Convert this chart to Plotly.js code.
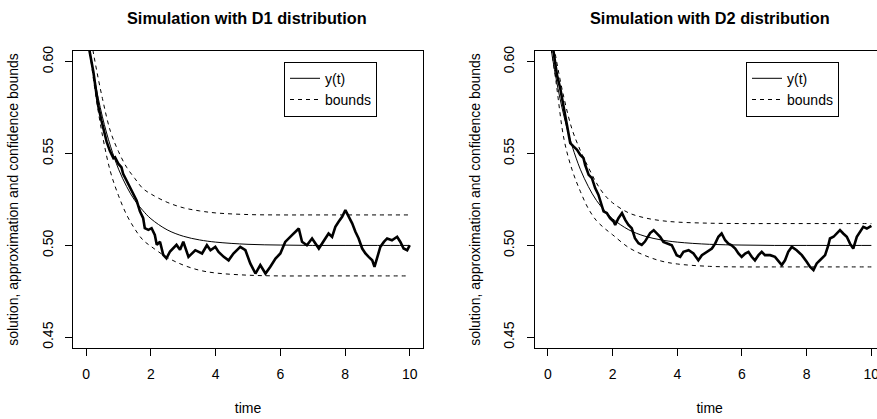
<!DOCTYPE html>
<html>
<head>
<meta charset="utf-8">
<script src="https://cdn.plot.ly/plotly-3.0.1.min.js"></script>
<style>
html,body{margin:0;padding:0;overflow:hidden;background:#fff;}
#chart{width:885px;height:419px;}
</style>
</head>
<body>
<div id="chart"></div>
<script>
// ---- data ----
const panelTitles = ["Simulation with D1 distribution", "Simulation with D2 distribution"];
const xTitle = "time";
const yTitle = "solution, approximation and confidence bounds";
const legendLabels = ["y(t)", "bounds"];
const xTicks = [0, 2, 4, 6, 8, 10];
const yTicks = [0.45, 0.50, 0.55, 0.60];
const yTickText = ["0.45", "0.50", "0.55", "0.60"];

const tGrid = [0, 0.25, 0.5, 0.75, 1, 1.25, 1.5, 1.75, 2, 2.5, 3, 3.5, 4, 5, 6, 7, 8, 9, 10];

// D1 panel
const d1Solution = [0.618, 0.591, 0.570, 0.554, 0.5415, 0.532, 0.5245, 0.519, 0.5145, 0.5085, 0.505, 0.503, 0.5018, 0.5006, 0.5002, 0.5, 0.5, 0.5, 0.5];
const d1Upper = [0.628, 0.602, 0.580, 0.562, 0.551, 0.5425, 0.5365, 0.531, 0.528, 0.5235, 0.5205, 0.5188, 0.5177, 0.5168, 0.5166, 0.5166, 0.5166, 0.5166, 0.5166];
const d1Lower = [0.622, 0.587, 0.560, 0.540, 0.527, 0.5166, 0.509, 0.503, 0.4995, 0.4935, 0.4893, 0.4865, 0.485, 0.4838, 0.4834, 0.4834, 0.4834, 0.4834, 0.4834];
const d1PathT = [0.10, 0.22, 0.32, 0.37, 0.47, 0.58, 0.63, 0.73, 0.84, 0.89, 0.99, 1.09, 1.14, 1.25, 1.35, 1.45, 1.56, 1.66, 1.76, 1.81, 1.92, 2.02, 2.12, 2.18, 2.28, 2.38, 2.48, 2.59, 2.69, 2.79, 2.90, 3.00,
  3.16, 3.37, 3.58, 3.73, 3.84, 3.99, 4.09, 4.25, 4.40, 4.55, 4.76, 4.92, 5.07, 5.23, 5.38, 5.54, 5.69, 5.85, 6.00, 6.15, 6.36, 6.57, 6.67,
  6.82, 6.98, 7.19, 7.39, 7.49, 7.60, 7.70, 7.80, 7.91, 8.01, 8.11, 8.22, 8.32, 8.42, 8.53, 8.63, 8.73, 8.84, 8.91, 8.99, 9.09, 9.20, 9.30, 9.45, 9.61, 9.71, 9.81, 9.92, 10.0];
const d1PathY = [0.606, 0.5945, 0.582, 0.576, 0.568, 0.5605, 0.5565, 0.5515, 0.5475, 0.548, 0.5445, 0.5425, 0.539, 0.5352, 0.5315, 0.528, 0.5243, 0.5186, 0.5148, 0.5094, 0.5085, 0.5094, 0.5057, 0.5003, 0.502, 0.4949, 0.493, 0.4967, 0.4985, 0.5003, 0.4976, 0.502,
  0.4938, 0.4974, 0.4956, 0.5001, 0.4974, 0.4992, 0.4965, 0.4938, 0.4919, 0.4956, 0.4992, 0.4974, 0.4902, 0.4847, 0.4893, 0.4847, 0.4884, 0.4929, 0.4956, 0.5019, 0.5056, 0.5092, 0.502,
  0.5001, 0.5038, 0.4983, 0.5038, 0.5065, 0.5047, 0.5101, 0.5129, 0.5156, 0.5192, 0.5156, 0.512, 0.5074, 0.5038, 0.4983, 0.4956, 0.4938, 0.4919, 0.4883, 0.4929, 0.4992, 0.5019, 0.5038, 0.5028, 0.5047, 0.5019, 0.4983, 0.4974, 0.5001];

// D2 panel
const d2Solution = [0.618, 0.591, 0.570, 0.554, 0.5415, 0.532, 0.5245, 0.519, 0.5145, 0.5085, 0.505, 0.503, 0.5018, 0.5006, 0.5002, 0.5, 0.5, 0.5, 0.5];
const d2Upper = [0.630, 0.602, 0.580, 0.563, 0.5518, 0.5425, 0.534, 0.5275, 0.5232, 0.5177, 0.515, 0.5135, 0.5127, 0.5121, 0.5119, 0.5119, 0.5119, 0.5119, 0.5119];
const d2Lower = [0.620, 0.589, 0.5575, 0.541, 0.5295, 0.520, 0.5135, 0.5093, 0.5058, 0.4988, 0.4945, 0.4915, 0.4899, 0.4886, 0.4883, 0.4883, 0.4883, 0.4883, 0.4883];
const d2PathT = [0.17, 0.28, 0.38, 0.48, 0.59, 0.64, 0.69, 0.79, 0.90, 1.00, 1.10, 1.15, 1.26, 1.36, 1.46, 1.56, 1.67, 1.72, 1.82, 1.92, 2.03, 2.08, 2.18, 2.29, 2.39, 2.49, 2.59, 2.69, 2.80, 2.90, 3.00, 3.16,
  3.27, 3.47, 3.57, 3.68, 3.83, 3.98, 4.09, 4.19, 4.35, 4.50, 4.65, 4.76, 4.92, 5.07, 5.17, 5.27, 5.37, 5.48, 5.58, 5.68, 5.79, 5.89, 5.99, 6.10, 6.20, 6.30, 6.40, 6.51, 6.61,
  6.71, 6.87, 7.02, 7.23, 7.33, 7.43, 7.54, 7.69, 7.85, 8.00, 8.10, 8.21, 8.31, 8.41, 8.57, 8.67, 8.72, 8.83, 8.93, 9.03, 9.13, 9.24, 9.34, 9.44, 9.55, 9.65, 9.75, 9.86, 9.96, 10.0];
const d2PathY = [0.606, 0.5927, 0.5856, 0.5766, 0.5657, 0.5603, 0.5557, 0.5539, 0.5521, 0.5493, 0.5475, 0.5439, 0.5384, 0.5366, 0.5312, 0.5276, 0.5221, 0.5185, 0.5176, 0.5148, 0.513, 0.5112, 0.5148, 0.5176, 0.5139, 0.5112, 0.5094, 0.5039, 0.5012, 0.5003, 0.5021, 0.5067,
  0.5083, 0.5047, 0.5019, 0.501, 0.5001, 0.4947, 0.4938, 0.4965, 0.4974, 0.4956, 0.4919, 0.4947, 0.4965, 0.4983, 0.501, 0.5047, 0.5065, 0.5028, 0.501, 0.5001, 0.4983, 0.4956, 0.4938, 0.4956, 0.4965, 0.4938, 0.4919, 0.4947, 0.4965,
  0.4947, 0.4947, 0.4938, 0.4893, 0.4919, 0.4965, 0.4992, 0.4974, 0.4947, 0.4911, 0.4884, 0.4866, 0.4902, 0.4919, 0.4947, 0.5001, 0.5038, 0.5047, 0.5065, 0.5083, 0.5065, 0.5047, 0.501, 0.4983, 0.5047, 0.5074, 0.5101, 0.5092, 0.5101, 0.5107];

// ---- chart ----
const FONT = "Liberation Sans, Arial, Helvetica, sans-serif";
const panels = [
  {sol: d1Solution, up: d1Upper, lo: d1Lower, pt: d1PathT, py: d1PathY, xa: "x", ya: "y", leg: "legend"},
  {sol: d2Solution, up: d2Upper, lo: d2Lower, pt: d2PathT, py: d2PathY, xa: "x2", ya: "y2", leg: "legend2"}
];

const traces = [];
panels.forEach((p, i) => {
  traces.push({x: p.pt, y: p.py, xaxis: p.xa, yaxis: p.ya, mode: "lines", showlegend: false,
    line: {color: "#000", width: 2.6}, hoverinfo: "skip"});
  traces.push({x: tGrid, y: p.sol, xaxis: p.xa, yaxis: p.ya, mode: "lines", name: legendLabels[0],
    legend: p.leg, line: {color: "#000", width: 1, shape: "spline"}});
  traces.push({x: tGrid, y: p.up, xaxis: p.xa, yaxis: p.ya, mode: "lines", name: legendLabels[1],
    legend: p.leg, legendgroup: "b" + i, line: {color: "#000", width: 1, dash: "4px,4px", shape: "spline"}});
  traces.push({x: tGrid, y: p.lo, xaxis: p.xa, yaxis: p.ya, mode: "lines", name: legendLabels[1],
    legend: p.leg, legendgroup: "b" + i, showlegend: false, line: {color: "#000", width: 1, dash: "4px,4px", shape: "spline"}});
});

const W = 885, H = 419;
function xAxis(domain, anchor) {
  return {domain: domain, anchor: anchor, range: [-0.4, 10.4], tickvals: xTicks, ticks: "outside", ticklen: 7,
    tickcolor: "#000", showline: true, mirror: true, linecolor: "#000", linewidth: 1, showgrid: false, zeroline: false,
    tickfont: {family: FONT, size: 14, color: "#000"}, ticklabelstandoff: 6,
    title: {text: xTitle, font: {family: FONT, size: 14, color: "#000"}, standoff: 22}};
}
function yAxis(anchor) {
  return {domain: [(H - 348.3) / H, (H - 50.7) / H], anchor: anchor, range: [0.444, 0.606], tickvals: yTicks, ticktext: yTickText,
    ticks: "outside", ticklen: 7, tickcolor: "#000", tickangle: -90, showline: true, mirror: true, linecolor: "#000", linewidth: 1,
    showgrid: false, zeroline: false, tickfont: {family: FONT, size: 14, color: "#000"}, ticklabelstandoff: 7,
    title: {text: yTitle, font: {family: FONT, size: 14, color: "#000"}, standoff: 17}};
}
function legendCfg(xPx) {
  return {x: xPx / W, y: (H - 61.7) / H, xanchor: "left", yanchor: "top", bgcolor: "#fff", bordercolor: "#000", borderwidth: 1,
    font: {family: FONT, size: 14, color: "#000"}, itemwidth: 30, tracegroupgap: 0};
}

const layout = {
  width: W, height: H, margin: {l: 0, r: 0, t: 0, b: 0}, paper_bgcolor: "#fff", plot_bgcolor: "#fff", showlegend: true,
  xaxis: xAxis([73.3 / W, 422.7 / W], "y"),
  yaxis: yAxis("x"),
  xaxis2: xAxis([535 / W, 884.3 / W], "y2"),
  yaxis2: yAxis("x2"),
  legend: legendCfg(284),
  legend2: legendCfg(746),
  annotations: panelTitles.map((t, i) => ({text: "<b>" + t + "</b>", xref: "paper", yref: "paper",
    x: (i === 0 ? 247 : 709.6) / W, y: (H - 17.5) / H, xanchor: "center", yanchor: "middle", showarrow: false,
    font: {family: FONT, size: 16.3, color: "#000"}}))
};

Plotly.newPlot("chart", traces, layout, {staticPlot: true, displayModeBar: false});
</script>
</body>
</html>
